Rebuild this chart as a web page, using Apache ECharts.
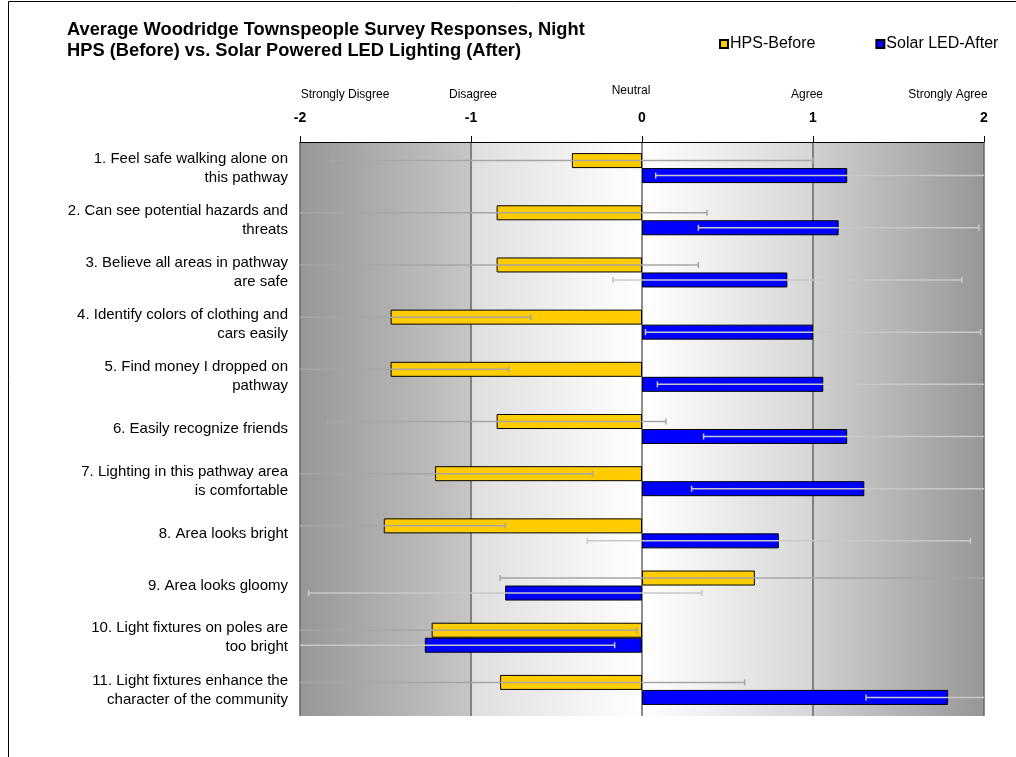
<!DOCTYPE html>
<html>
<head>
<meta charset="utf-8">
<script src="https://cdn.jsdelivr.net/npm/echarts@6/dist/echarts.min.js"></script>
<style>
  html, body { margin: 0; padding: 0; background: #fff; }
  #chart { width: 1016px; height: 757px; }
</style>
</head>
<body>
<div id="chart"></div>
<script>
// Survey questions (y axis, top to bottom)
var questions = [
    '1. Feel safe walking alone on\nthis pathway',
    '2. Can see potential hazards and\nthreats',
    '3. Believe all areas in pathway\nare safe',
    '4. Identify colors of clothing and\ncars easily',
    '5. Find money I dropped on\npathway',
    '6. Easily recognize friends',
    '7. Lighting in this pathway area\nis comfortable',
    '8. Area looks bright',
    '9. Area looks gloomy',
    '10. Light fixtures on poles are\ntoo bright',
    '11. Light fixtures enhance the\ncharacter of the community'
];

// average responses and error bar half widths
var hpsBefore = [-0.41, -0.85, -0.85, -1.47, -1.47, -0.85, -1.21, -1.51, 0.66, -1.23, -0.83];
var hpsErr = [1.41, 1.23, 1.18, 0.82, 0.69, 0.99, 0.92, 0.71, 1.49, 1.20, 1.43];
var ledAfter = [1.20, 1.15, 0.85, 1.00, 1.06, 1.20, 1.30, 0.80, -0.80, -1.27, 1.79];
var ledErr = [1.12, 0.82, 1.02, 0.98, 0.97, 0.84, 1.01, 1.12, 1.15, 1.11, 0.48];

// scale words above the tick numbers
var tickValues = [-2, -1, 0, 1, 2];
var tickWords = ['Strongly Disgree', 'Disagree', 'Neutral', 'Agree', 'Strongly Agree'];

function errData(vals, errs) {
    return vals.map(function (v, i) {
        return [i, v - errs[i], v + errs[i]];
    });
}

function errRender(offset, color) {
    return function (params, api) {
        var cat = api.value(0);
        var p1 = api.coord([api.value(1), cat]);
        var p2 = api.coord([api.value(2), cat]);
        var y = p1[1] + offset;
        var st = { stroke: color, lineWidth: 1.5 };
        return {
            type: 'group',
            children: [
                { type: 'line', shape: { x1: p1[0], y1: y, x2: p2[0], y2: y }, style: st },
                { type: 'line', shape: { x1: p1[0], y1: y - 3, x2: p1[0], y2: y + 3 }, style: st },
                { type: 'line', shape: { x1: p2[0], y1: y - 3, x2: p2[0], y2: y + 3 }, style: st }
            ]
        };
    };
}

var font = 'Liberation Sans, Arial, sans-serif';
var myChart = echarts.init(document.getElementById('chart'));

var option = {
    animation: false,
    textStyle: { fontFamily: font },
    title: {
        text: 'Average Woodridge Townspeople Survey Responses, Night\nHPS (Before) vs. Solar Powered LED Lighting (After)',
        left: 62,
        top: 14,
        textStyle: { fontSize: 18.3, fontWeight: 'bold', color: '#000', lineHeight: 21 }
    },
    legend: {
        left: 714,
        top: 31,
        itemWidth: 8,
        itemHeight: 8,
        itemGap: 60,
        icon: 'rect',
        textStyle: { fontSize: 16, color: '#000', padding: [0, 0, 0, -3] },
        data: ['HPS-Before', 'Solar LED-After']
    },
    grid: {
        left: 300,
        right: 32,
        top: 142,
        bottom: 41,
        show: true,
        borderWidth: 0,
        backgroundColor: {
            type: 'linear', x: 0, y: 0, x2: 1, y2: 0,
            colorStops: [
                { offset: 0, color: '#979797' },
                { offset: 0.25, color: '#c6c6c6' },
                { offset: 0.25, color: '#dedede' },
                { offset: 0.5, color: '#ffffff' },
                { offset: 0.75, color: '#d6d6d6' },
                { offset: 0.75, color: '#d0d0d0' },
                { offset: 1, color: '#979797' }
            ]
        }
    },
    xAxis: {
        type: 'value',
        position: 'top',
        min: -2,
        max: 2,
        interval: 1,
        axisLine: { show: true, onZero: false, lineStyle: { color: '#000', width: 1 } },
        axisTick: { show: true, length: 6, lineStyle: { color: '#000' } },
        axisLabel: { fontSize: 14, fontWeight: 'bold', color: '#000', margin: 17 },
        splitLine: { show: true, lineStyle: { color: '#666', width: 1.5 } }
    },
    yAxis: {
        type: 'category',
        inverse: true,
        data: questions,
        axisLine: { show: false },
        axisTick: { show: false },
        splitLine: { show: false },
        axisLabel: { fontSize: 15, color: '#000', lineHeight: 19, margin: 12, align: 'right', padding: [4, 0, 0, 0] }
    },
    series: [
        {
            name: 'HPS-Before',
            type: 'bar',
            data: hpsBefore,
            barWidth: 15,
            barGap: '0%',
            itemStyle: { color: '#ffcc00', borderColor: '#000', borderWidth: 1 }
        },
        {
            name: 'Solar LED-After',
            type: 'bar',
            data: ledAfter,
            barWidth: 15,
            barGap: '0%',
            itemStyle: { color: '#0000ff', borderColor: '#000', borderWidth: 1 }
        },
        {
            type: 'custom',
            data: errData(hpsBefore, hpsErr),
            encode: { x: [1, 2], y: 0 },
            renderItem: errRender(-7.5, '#a6a6a6'),
            clip: true,
            z: 5,
            silent: true
        },
        {
            type: 'custom',
            data: errData(ledAfter, ledErr),
            encode: { x: [1, 2], y: 0 },
            renderItem: errRender(7.5, '#c8c8c8'),
            clip: true,
            z: 5,
            silent: true
        }
    ]
};

myChart.setOption(option);

// words above the numbers, nudged the way the original places them
var wordShift = [45, 2, -11, -6, -36];
var wordTop = [95, 95, 91, 95, 95];
var words = tickValues.map(function (v, i) {
    var x = myChart.convertToPixel({ xAxisIndex: 0 }, v);
    return {
        type: 'text',
        x: x + wordShift[i],
        y: wordTop[i],
        style: {
            text: tickWords[i],
            fontSize: 12,
            fontFamily: font,
            fill: '#000',
            align: 'center',
            verticalAlign: 'middle'
        }
    };
});
words.push({
    type: 'rect',
    shape: { x: 8.5, y: 1.5, width: 1200, height: 1000 },
    style: { fill: null, stroke: '#000', lineWidth: 1 }
});
myChart.setOption({ graphic: words });
</script>
</body>
</html>
